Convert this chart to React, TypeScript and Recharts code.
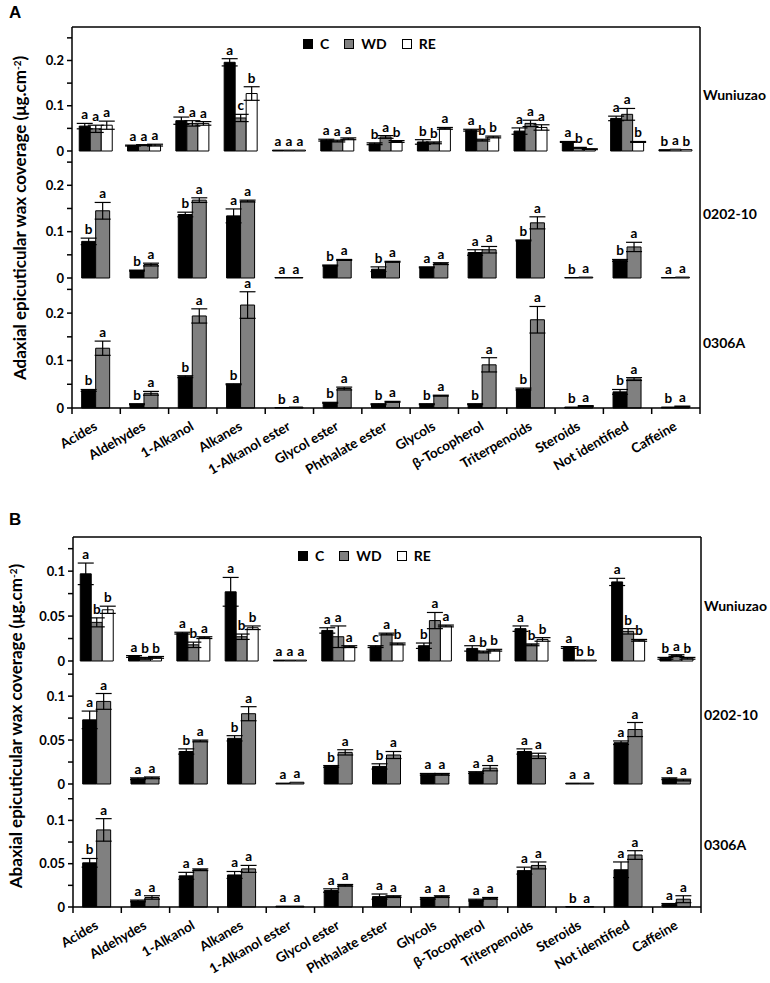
import React from "react";
import {
    BarChart,
    Bar,
    XAxis,
    YAxis,
    ErrorBar,
    LabelList,
    Legend,
    ReferenceLine,
} from "recharts";

const CATEGORIES = [
    "Acides",
    "Aldehydes",
    "1-Alkanol",
    "Alkanes",
    "1-Alkanol ester",
    "Glycol ester",
    "Phthalate ester",
    "Glycols",
    "β-Tocopherol",
    "Triterpenoids",
    "Steroids",
    "Not identified",
    "Caffeine",
];

// A - adaxial, Wuniuzao
const adWuC = [0.055, 0.012, 0.067, 0.196, 0.002, 0.024, 0.016, 0.02, 0.046, 0.044, 0.02, 0.072, 0.003];
const adWuCErr = [0.006, 0.001, 0.008, 0.008, 0, 0.002, 0.002, 0.005, 0.002, 0.007, 0.001, 0.005, 0];
const adWuCSig = "a a a a a a b b a a a a b";
const adWuWD = [0.049, 0.013, 0.061, 0.073, 0.002, 0.022, 0.031, 0.018, 0.024, 0.061, 0.007, 0.081, 0.004];
const adWuWDErr = [0.008, 0.001, 0.006, 0.008, 0, 0.002, 0.003, 0.002, 0.002, 0.007, 0.001, 0.013, 0];
const adWuWDSig = "a a a c a a a b b a b a a";
const adWuRE = [0.057, 0.013, 0.061, 0.127, 0.002, 0.027, 0.021, 0.05, 0.031, 0.052, 0.004, 0.02, 0.003];
const adWuREErr = [0.009, 0.002, 0.004, 0.015, 0, 0.002, 0.002, 0.002, 0.002, 0.006, 0.001, 0.001, 0];
const adWuRESig = "a a a b a a b a b a c b b";

// A - adaxial, 0202-10
const ad02C = [0.079, 0.016, 0.137, 0.134, 0.001, 0.027, 0.019, 0.023, 0.055, 0.081, 0.001, 0.038, 0.001];
const ad02CErr = [0.007, 0.001, 0.005, 0.015, 0, 0.001, 0.005, 0.001, 0.006, 0.001, 0, 0.002, 0];
const ad02CSig = "b b b a a b b a a b b b a";
const ad02WD = [0.145, 0.029, 0.168, 0.166, 0.001, 0.039, 0.035, 0.031, 0.061, 0.119, 0.002, 0.067, 0.002];
const ad02WDErr = [0.018, 0.003, 0.005, 0.002, 0, 0.001, 0.001, 0.002, 0.007, 0.013, 0, 0.01, 0];
const ad02WDSig = "a a a a a a a a a a a a a";

// A - adaxial, 0306A
const ad03C = [0.037, 0.008, 0.066, 0.05, 0.001, 0.011, 0.008, 0.008, 0.008, 0.04, 0.002, 0.034, 0.002];
const ad03CErr = [0.002, 0.001, 0.002, 0.001, 0, 0.001, 0.001, 0.001, 0.001, 0.002, 0, 0.005, 0];
const ad03CSig = "b b b b b b b b b b b b b";
const ad03WD = [0.126, 0.031, 0.194, 0.217, 0.002, 0.041, 0.013, 0.026, 0.091, 0.186, 0.004, 0.061, 0.003];
const ad03WDErr = [0.015, 0.004, 0.015, 0.028, 0, 0.003, 0.001, 0.001, 0.015, 0.028, 0.001, 0.003, 0.001];
const ad03WDSig = "a a a a a a a a a a a a a";

// B - abaxial, Wuniuzao
const abWuC = [0.097, 0.005, 0.031, 0.077, 0.001, 0.034, 0.016, 0.017, 0.014, 0.036, 0.015, 0.088, 0.003];
const abWuCErr = [0.012, 0.001, 0.001, 0.016, 0, 0.003, 0.001, 0.003, 0.003, 0.003, 0.001, 0.004, 0.001];
const abWuCSig = "a a a a a a c b a a a a b";
const abWuWD = [0.043, 0.003, 0.018, 0.027, 0.001, 0.027, 0.03, 0.045, 0.01, 0.018, 0.001, 0.033, 0.006];
const abWuWDErr = [0.005, 0.001, 0.003, 0.003, 0, 0.012, 0.001, 0.009, 0.001, 0.001, 0, 0.003, 0.001];
const abWuWDSig = "b b b b a a a a b b b b a";
const abWuRE = [0.057, 0.004, 0.026, 0.037, 0.001, 0.016, 0.019, 0.039, 0.012, 0.024, 0.001, 0.023, 0.003];
const abWuREErr = [0.004, 0.001, 0.001, 0.002, 0, 0.001, 0.001, 0.001, 0.001, 0.002, 0, 0.001, 0.001];
const abWuRESig = "b b a b a a b a b b b b b";

// B - abaxial, 0202-10
const ab02C = [0.073, 0.006, 0.037, 0.052, 0.001, 0.02, 0.02, 0.011, 0.013, 0.037, 0.001, 0.047, 0.006];
const ab02CErr = [0.01, 0.001, 0.003, 0.003, 0, 0.001, 0.003, 0.001, 0.001, 0.003, 0, 0.002, 0.001];
const ab02CSig = "a a b b a b b a a a a a a";
const ab02WD = [0.094, 0.007, 0.049, 0.08, 0.002, 0.036, 0.033, 0.011, 0.018, 0.032, 0.001, 0.062, 0.0045];
const ab02WDErr = [0.009, 0.001, 0.001, 0.008, 0, 0.003, 0.004, 0.001, 0.003, 0.003, 0, 0.008, 0.001];
const ab02WDSig = "a a a a a a a a a a a a a";

// B - abaxial, 0306A
const ab03C = [0.051, 0.007, 0.036, 0.037, 0.001, 0.019, 0.012, 0.01, 0.008, 0.042, 0.0005, 0.043, 0.003];
const ab03CErr = [0.005, 0.001, 0.004, 0.004, 0, 0.002, 0.003, 0.001, 0.001, 0.004, 0, 0.009, 0.001];
const ab03CSig = "b a a a a a a a a a b a a";
const ab03WD = [0.089, 0.011, 0.043, 0.044, 0.001, 0.025, 0.012, 0.012, 0.01, 0.048, 0.0005, 0.06, 0.009];
const ab03WDErr = [0.013, 0.002, 0.001, 0.004, 0, 0.001, 0.001, 0.001, 0.001, 0.004, 0, 0.005, 0.004];
const ab03WDSig = "a a a a a a a a a a a a a";

const AD_TICKS = [0, 0.05, 0.1, 0.15, 0.2, 0.25];
const AD_LABELED = [0, 0.1, 0.2];
const AB_TICKS = [0, 0.025, 0.05, 0.075, 0.1, 0.125];
const AB_LABELED = [0, 0.05, 0.1];

const FONT = "Lato, 'Open Sans', sans-serif";
const PLOT_W = 628;
const BAND = PLOT_W / 13;
const YW = 50;
const RW = 66;
const M = 2;
const XH = 82;

const ORDER = ["C", "WD", "RE"];
// series slot keys sort in drawing order
const SLOT: Record<string, string> = { C: "s1", WD: "s2", RE: "s3" };
const FILL: Record<string, string> = { C: "#000000", WD: "#808080", RE: "#ffffff" };

type Series = { key: string; vals: number[]; errs: number[]; sig: string };

function rows(series: Series[]) {
    return CATEGORIES.map((name, i) => {
        const r: Record<string, any> = { name };
        series.forEach((s) => {
            const k = SLOT[s.key];
            r[k] = s.vals[i];
            r[k + "e"] = s.errs[i];
            r[k + "s"] = s.sig.split(" ")[i];
        });
        return r;
    });
}

function XTick(props: any) {
    const { x, y, payload, index } = props;
    const last = index === CATEGORIES.length - 1;
    return (
        <g>
            <line x1={x - BAND / 2} x2={x - BAND / 2} y1={y} y2={y + 6} stroke="#000" strokeWidth={1.5} />
            {last && <line x1={x + BAND / 2} x2={x + BAND / 2} y1={y} y2={y + 6} stroke="#000" strokeWidth={1.5} />}
            <text
                x={x + 2}
                y={y + 21}
                transform={`rotate(-30 ${x + 2} ${y + 21})`}
                textAnchor="end"
                fontFamily={FONT}
                fontWeight={700}
                fontSize={13.5}
                fill="#000"
            >
                {payload.value}
            </text>
        </g>
    );
}

function LegendContent(props: any) {
    const payload = [...(props.payload || [])].sort(
        (a: any, b: any) => ORDER.indexOf(a.value) - ORDER.indexOf(b.value)
    );
    return (
        <div
            style={{
                display: "flex",
                alignItems: "center",
                fontFamily: FONT,
                fontWeight: 700,
                fontSize: 14,
                color: "#000",
                lineHeight: "17px",
            }}
        >
            {payload.map((e: any) => (
                <div key={e.value} style={{ display: "flex", alignItems: "center", marginRight: 15 }}>
                    <span
                        style={{
                            display: "inline-block",
                            width: 8,
                            height: 8,
                            background: FILL[e.value] ?? e.color,
                            border: "1px solid #000",
                            marginRight: 7,
                        }}
                    />
                    {e.value}
                </div>
            ))}
        </div>
    );
}

interface SubProps {
    plotLeft: number;
    top: number;
    plotH: number;
    max: number;
    ticks: number[];
    labeled: number[];
    series: Series[];
    showX?: boolean;
    topLine?: boolean;
    legendPos?: { left: number; top: number };
    side: string;
    sideDy: number;
}

function SubChart({ plotLeft, top, plotH, max, ticks, labeled, series, showX, topLine, legendPos, side, sideDy }: SubProps) {
    const data = rows(series);
    const three = series.length === 3;
    const h = M + plotH + (showX ? XH : M);
    const w = M + YW + PLOT_W + RW + M;
    const pxPer = plotH / max;

    const sigLabel = (s: Series) => (p: any) => {
        const vb = p.viewBox || p;
        const x = vb.x ?? p.x;
        const y = vb.y ?? p.y;
        const width = vb.width ?? p.width;
        const idx = p.index ?? Math.floor((x - M - YW) / BAND);
        const err = s.errs[idx] || 0;
        return (
            <text
                x={x + width / 2}
                y={y - err * pxPer - 4}
                textAnchor="middle"
                fontFamily={FONT}
                fontWeight={700}
                fontSize={13.5}
                fill="#000"
            >
                {s.sig.split(" ")[idx]}
            </text>
        );
    };

    return (
        <div style={{ position: "absolute", left: plotLeft - YW - M, top: top - M }}>
            <BarChart
                width={w}
                height={h}
                data={data}
                margin={{ top: M, right: M, bottom: showX ? 0 : M, left: M }}
                barCategoryGap={three ? "15%" : "20%"}
                barGap={0}
            >
                <XAxis
                    dataKey="name"
                    interval={0}
                    height={showX ? XH : 0}
                    tick={showX ? <XTick /> : false}
                    tickLine={false}
                    tickSize={0}
                    tickMargin={0}
                    axisLine={{ stroke: "#000", strokeWidth: 1.5 }}
                />
                <YAxis
                    width={YW}
                    domain={[0, max]}
                    ticks={ticks}
                    interval={0}
                    tickFormatter={(v: number) => (labeled.includes(v) ? String(v) : "")}
                    tick={{ fontFamily: FONT, fontWeight: 700, fontSize: 13, fill: "#000" }}
                    tickSize={5}
                    tickMargin={3}
                    tickLine={{ stroke: "#000", strokeWidth: 1.5 }}
                    axisLine={{ stroke: "#000", strokeWidth: 1.5 }}
                />
                <YAxis
                    yAxisId="r"
                    orientation="right"
                    width={RW}
                    domain={[0, 1]}
                    tick={false}
                    tickLine={false}
                    axisLine={{ stroke: "#000", strokeWidth: 1.5 }}
                    label={{
                        value: side,
                        position: "insideLeft",
                        offset: 3,
                        dy: sideDy,
                        style: { fontFamily: FONT, fontWeight: 700, fontSize: 14, fill: "#000" },
                    }}
                />
                {topLine && <ReferenceLine y={max} stroke="#000" strokeWidth={1.5} />}
                {series.map((s) => {
                    const k = SLOT[s.key];
                    return (
                        <Bar
                            key={k}
                            id={k}
                            dataKey={k}
                            name={s.key}
                            fill={FILL[s.key]}
                            stroke="#000"
                            strokeWidth={1}
                            isAnimationActive={false}
                        >
                            <ErrorBar dataKey={k + "e"} width={8} stroke="#000" strokeWidth={1.2} isAnimationActive={false} />
                            <LabelList dataKey={k + "s"} content={sigLabel(s)} />
                        </Bar>
                    );
                })}
                {legendPos && (
                    <Legend
                        layout="horizontal"
                        verticalAlign="middle"
                        align="center"
                        wrapperStyle={{ left: legendPos.left, top: legendPos.top, width: 220, height: 17 }}
                        content={<LegendContent />}
                    />
                )}
            </BarChart>
        </div>
    );
}

const s = (key: string, vals: number[], errs: number[], sig: string): Series => ({ key, vals, errs, sig });

export default function App() {
    return (
        <div style={{ position: "absolute", left: 0, top: 0, width: 770, height: 983, overflow: "hidden", background: "#fff" }}>
            <style>{`.recharts-surface { overflow: visible; }`}</style>
            {/* Panel A */}
            <SubChart
                plotLeft={72}
                top={27}
                plotH={124}
                max={0.274}
                ticks={AD_TICKS}
                labeled={AD_LABELED}
                series={[s("C", adWuC, adWuCErr, adWuCSig), s("WD", adWuWD, adWuWDErr, adWuWDSig), s("RE", adWuRE, adWuREErr, adWuRESig)]}
                topLine
                legendPos={{ left: 283, top: 10 }}
                side="Wuniuzao"
                sideDy={6}
            />
            <SubChart
                plotLeft={72}
                top={151}
                plotH={127}
                max={0.274}
                ticks={AD_TICKS}
                labeled={AD_LABELED}
                series={[s("C", ad02C, ad02CErr, ad02CSig), s("WD", ad02WD, ad02WDErr, ad02WDSig)]}
                side="0202-10"
                sideDy={0}
            />
            <SubChart
                plotLeft={72}
                top={278}
                plotH={130}
                max={0.274}
                ticks={AD_TICKS}
                labeled={AD_LABELED}
                series={[s("C", ad03C, ad03CErr, ad03CSig), s("WD", ad03WD, ad03WDErr, ad03WDSig)]}
                showX
                side="0306A"
                sideDy={0}
            />

            {/* Panel B */}
            <SubChart
                plotLeft={73}
                top={537}
                plotH={124}
                max={0.138}
                ticks={AB_TICKS}
                labeled={AB_LABELED}
                series={[s("C", abWuC, abWuCErr, abWuCSig), s("WD", abWuWD, abWuWDErr, abWuWDSig), s("RE", abWuRE, abWuREErr, abWuRESig)]}
                topLine
                legendPos={{ left: 277, top: 12 }}
                side="Wuniuzao"
                sideDy={7}
            />
            <SubChart
                plotLeft={73}
                top={661}
                plotH={123}
                max={0.14}
                ticks={AB_TICKS}
                labeled={AB_LABELED}
                series={[s("C", ab02C, ab02CErr, ab02CSig), s("WD", ab02WD, ab02WDErr, ab02WDSig)]}
                side="0202-10"
                sideDy={-7}
            />
            <SubChart
                plotLeft={73}
                top={784}
                plotH={123}
                max={0.142}
                ticks={AB_TICKS}
                labeled={AB_LABELED}
                series={[s("C", ab03C, ab03CErr, ab03CSig), s("WD", ab03WD, ab03WDErr, ab03WDSig)]}
                showX
                side="0306A"
                sideDy={0}
            />

            <svg width={770} height={983} style={{ position: "absolute", left: 0, top: 0, pointerEvents: "none" }}>
                <text x={9} y={18} fontFamily="'Liberation Sans', Arial, sans-serif" fontWeight={700} fontSize={17} fill="#000">
                    A
                </text>
                <text x={9} y={525} fontFamily="'Liberation Sans', Arial, sans-serif" fontWeight={700} fontSize={17} fill="#000">
                    B
                </text>
                <text
                    transform="translate(26,218) rotate(-90)"
                    textAnchor="middle"
                    fontFamily={FONT}
                    fontWeight={700}
                    fontSize={17}
                    fill="#000"
                >
                    Adaxial epicuticular wax coverage (μg.cm
                    <tspan dy={-5} fontSize={10}>-2</tspan>
                    <tspan dy={5}>)</tspan>
                </text>
                <text
                    transform="translate(22,726) rotate(-90)"
                    textAnchor="middle"
                    fontFamily={FONT}
                    fontWeight={700}
                    fontSize={17}
                    fill="#000"
                >
                    Abaxial epicuticular wax coverage (μg.cm
                    <tspan dy={-5} fontSize={10}>-2</tspan>
                    <tspan dy={5}>)</tspan>
                </text>
            </svg>
        </div>
    );
}
